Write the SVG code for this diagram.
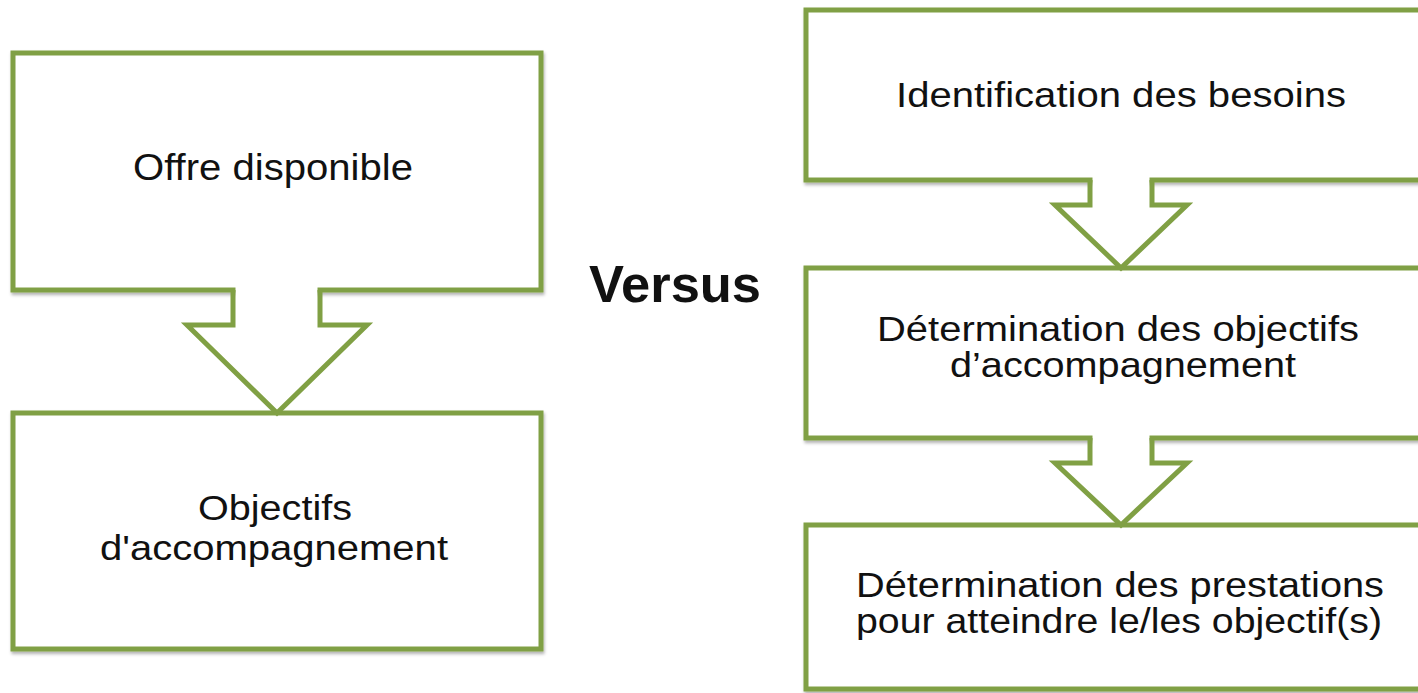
<svg xmlns="http://www.w3.org/2000/svg" width="1418" height="693" viewBox="0 0 1418 693">
<defs>
<filter id="sh" x="-5%" y="-5%" width="110%" height="115%">
<feDropShadow dx="1" dy="2.5" stdDeviation="1.5" flood-color="#000" flood-opacity="0.3"/>
</filter>
</defs>
<style>
.box{fill:#fff;stroke:#80A044;stroke-width:5;filter:url(#sh)}
.afill{fill:#fff;stroke:none}
.aline{fill:none;stroke:#80A044;stroke-width:5;stroke-linejoin:miter}
.t{font-family:"Liberation Sans",Arial,sans-serif;fill:#111;text-anchor:middle}
.l{font-size:37px}
.lo{font-size:35px}
.r{font-size:35px}
.v{font-size:52px;font-weight:bold}
</style>
<rect width="1418" height="693" fill="#fff"/>
<g id="offre">
<rect class="box" x="13" y="53" width="528" height="237"/>
<text class="t l" x="273" y="180" textLength="280" lengthAdjust="spacingAndGlyphs">Offre disponible</text>
</g>
<g id="objectifs">
<rect class="box" x="13" y="413" width="528" height="236"/>
<text class="t lo" x="275" y="520" textLength="154" lengthAdjust="spacingAndGlyphs">Objectifs</text>
<text class="t lo" x="274" y="560" textLength="348" lengthAdjust="spacingAndGlyphs">d'accompagnement</text>
</g>
<g id="versus">
<text class="t v" x="675" y="302" textLength="172" lengthAdjust="spacingAndGlyphs">Versus</text>
</g>
<g id="identification">
<rect class="box" x="806" y="10" width="630" height="170"/>
<text class="t r" x="1121" y="107" textLength="450" lengthAdjust="spacingAndGlyphs">Identification des besoins</text>
</g>
<g id="determination-objectifs">
<rect class="box" x="806" y="268" width="630" height="170"/>
<text class="t r" x="1118" y="341" textLength="482" lengthAdjust="spacingAndGlyphs">Détermination des objectifs</text>
<text class="t r" x="1123" y="377" textLength="346" lengthAdjust="spacingAndGlyphs">d’accompagnement</text>
</g>
<g id="determination-prestations">
<rect class="box" x="806" y="525" width="630" height="164"/>
<text class="t r" x="1120" y="597" textLength="528" lengthAdjust="spacingAndGlyphs">Détermination des prestations</text>
<text class="t r" x="1119" y="633" textLength="526" lengthAdjust="spacingAndGlyphs">pour atteindre le/les objectif(s)</text>
</g>
<g id="connectors">
<polygon class="afill" points="235.5,286 235.5,327.5 193,327.5 277,410 361,327.5 317.5,327.5 317.5,286"/>
<polyline class="aline" points="233,290 233,325 187,325 277,413 367,325 320,325 320,290"/>
<polygon class="afill" points="1092.5,176 1092.5,207.5 1061,207.5 1121,265 1181,207.5 1149.5,207.5 1149.5,176"/>
<polyline class="aline" points="1090,180 1090,205 1055,205 1121,268 1187,205 1152,205 1152,180"/>
<polygon class="afill" points="1092.5,434 1092.5,465.5 1061,465.5 1121,522 1181,465.5 1149.5,465.5 1149.5,434"/>
<polyline class="aline" points="1090,438 1090,463 1055,463 1121,525 1187,463 1152,463 1152,438"/>
</g>
</svg>
